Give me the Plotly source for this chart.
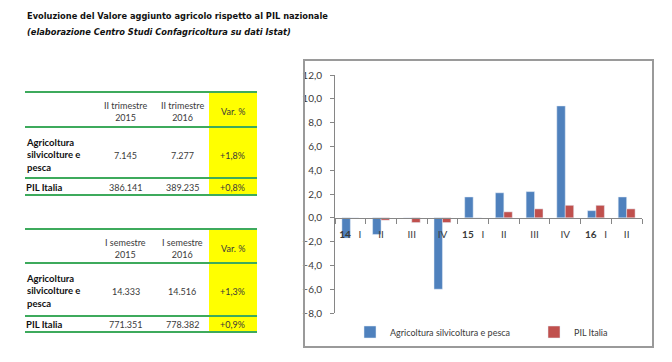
import plotly.graph_objects as go

W, H = 672, 362
OFF = 8  # page body margin of the html page

# ---------------- data ----------------
quarters = ["14 I", "14 II", "14 III", "14 IV", "15 I", "15 II", "15 III", "15 IV", "16 I", "16 II"]
quarter_labels = ["<b>14</b>   I", "II", "III", "IV", "<b>15</b>   I", "II", "III", "IV", "<b>16</b>   I", "II"]
agri_values = [-1.7, -1.4, 0.0, -6.0, 1.75, 2.1, 2.2, 9.4, 0.6, 1.75]
pil_values = [0.0, -0.2, -0.4, -0.4, 0.0, 0.5, 0.75, 1.05, 1.05, 0.75]
series_names = ["Agricoltura silvicoltura e pesca", "PIL Italia"]
y_ticks = [-8, -6, -4, -2, 0, 2, 4, 6, 8, 10, 12]

title_line1 = "Evoluzione del Valore aggiunto agricolo rispetto al PIL nazionale"
title_line2 = "(elaborazione Centro Studi Confagricoltura su dati Istat)"

t1_header = ["II trimestre<br>2015", "II trimestre<br>2016", "Var. %"]
t1_agri = ["7.145", "7.277", "+1,8%"]
t1_pil = ["386.141", "389.235", "+0,8%"]

t2_header = ["I semestre<br>2015", "I semestre<br>2016", "Var. %"]
t2_agri = ["14.333", "14.516", "+1,3%"]
t2_pil = ["771.351", "778.382", "+0,9%"]

row_labels = ["Agricoltura<br>silvicolture e<br>pesca", "PIL Italia"]

# ---------------- helpers ----------------
def px(x):
    return (x - OFF) / W

def py(y):
    return 1 - (y - OFF) / H

BLUE = "#4F81BD"
RED = "#C0504D"
GREEN = "#3DAA5C"
YELLOW = "#FFFF00"
TXT = "#3a3a3a"
FONT = "Lato, Calibri, Arial"
COND = "DejaVu Sans Condensed, Liberation Sans Narrow, Lato, Arial"

fig = go.Figure()
fig.add_trace(go.Bar(x=quarters, y=agri_values, name=series_names[0], marker_color=BLUE, legend="legend"))
fig.add_trace(go.Bar(x=quarters, y=pil_values, name=series_names[1], marker_color=RED, legend="legend2"))

y_top, y_bot = 75, 313
ydom = [py(y_bot), py(y_top)]
zero_pos = ydom[0] + (0 - y_ticks[0]) / (y_ticks[-1] - y_ticks[0]) * (ydom[1] - ydom[0])

shapes = []
annots = []

# chart frame
shapes.append(dict(type="rect", xref="paper", yref="paper",
                   x0=px(304), x1=px(653), y0=py(347), y1=py(60),
                   line=dict(color="#9a9a9a", width=2), fillcolor="rgba(0,0,0,0)", layer="above"))

# title
annots.append(dict(xref="paper", yref="paper", x=px(25), y=py(15), xanchor="left", yanchor="middle",
                   text="<b>" + title_line1 + "</b>", showarrow=False,
                   font=dict(family=COND, size=9.2, color="#111")))
annots.append(dict(xref="paper", yref="paper", x=px(25), y=py(31), xanchor="left", yanchor="middle",
                   text="<b><i>" + title_line2 + "</i></b>", showarrow=False,
                   font=dict(family=COND, size=9.2, color="#111")))

col_x = [126, 182, 233]
x_left, x_right, x_yel = 25, 257, 209


def draw_table(lines, header, agri, pil, head_y, agri_y, pil_y):
    shapes.append(dict(type="rect", xref="paper", yref="paper",
                       x0=px(x_yel), x1=px(x_right), y0=py(lines[-1]), y1=py(lines[0]),
                       fillcolor=YELLOW, line=dict(width=0), layer="below"))
    for ly in lines:
        shapes.append(dict(type="line", xref="paper", yref="paper",
                           x0=px(x_left), x1=px(x_right), y0=py(ly), y1=py(ly),
                           line=dict(color=GREEN, width=2)))
    for cx, h in zip(col_x, header):
        annots.append(dict(xref="paper", yref="paper", x=px(cx), y=py(head_y), text=h,
                           showarrow=False, xanchor="center", yanchor="middle",
                           font=dict(family=FONT, size=9, color=TXT)))
    annots.append(dict(xref="paper", yref="paper", x=px(24), y=py(agri_y), text="<b>" + row_labels[0] + "</b>",
                       showarrow=False, xanchor="left", yanchor="middle", align="left",
                       font=dict(family=FONT, size=9.5, color="#111")))
    annots.append(dict(xref="paper", yref="paper", x=px(24), y=py(pil_y), text="<b>" + row_labels[1] + "</b>",
                       showarrow=False, xanchor="left", yanchor="middle", align="left",
                       font=dict(family=FONT, size=9.5, color="#111")))
    for cx, v in zip(col_x, agri):
        annots.append(dict(xref="paper", yref="paper", x=px(cx), y=py(agri_y), text=v,
                           showarrow=False, xanchor="center", yanchor="middle",
                           font=dict(family=FONT, size=9, color=TXT)))
    for cx, v in zip(col_x, pil):
        annots.append(dict(xref="paper", yref="paper", x=px(cx), y=py(pil_y), text=v,
                           showarrow=False, xanchor="center", yanchor="middle",
                           font=dict(family=FONT, size=9, color=TXT)))


draw_table([92, 127, 178, 195], t1_header, t1_agri, t1_pil, 111, 155, 187)
draw_table([229, 263, 316, 332], t2_header, t2_agri, t2_pil, 248, 291, 324)

leg_common = dict(orientation="h", yanchor="middle", xanchor="left", bgcolor="rgba(0,0,0,0)",
                  font=dict(family=FONT, size=9, color=TXT), itemwidth=30)

fig.update_layout(
    width=W, height=H,
    margin=dict(l=0, r=0, t=0, b=0, autoexpand=False),
    paper_bgcolor="white", plot_bgcolor="white",
    barmode="group", bargap=0.45, bargroupgap=0,
    font=dict(family=FONT, size=10, color=TXT),
    separators=",.",
    showlegend=True,
    legend=dict(x=px(350), y=py(332), **leg_common),
    legend2=dict(x=px(534), y=py(332), **leg_common),
    xaxis=dict(domain=[px(335), px(642)], anchor="free", position=zero_pos,
               type="category", tickmode="array", tickvals=quarters, ticktext=quarter_labels,
               tickson="boundaries", ticks="outside", ticklen=5, tickcolor="#868686", tickangle=0,
               showline=True, linecolor="#868686", linewidth=1, showgrid=False, automargin=False,
               tickfont=dict(family=FONT, size=10, color=TXT), ticklabelstandoff=7),
    yaxis=dict(domain=ydom, range=[y_ticks[0], y_ticks[-1]], tickmode="array", tickvals=y_ticks,
               tickformat=".1f", ticks="outside", ticklen=4, tickcolor="#868686",
               showline=True, linecolor="#868686", linewidth=1, showgrid=False, zeroline=False,
               automargin=False,
               tickfont=dict(family=FONT, size=10, color=TXT), ticklabelstandoff=6),
    shapes=shapes, annotations=annots,
)

fig.write_html("out.html")
